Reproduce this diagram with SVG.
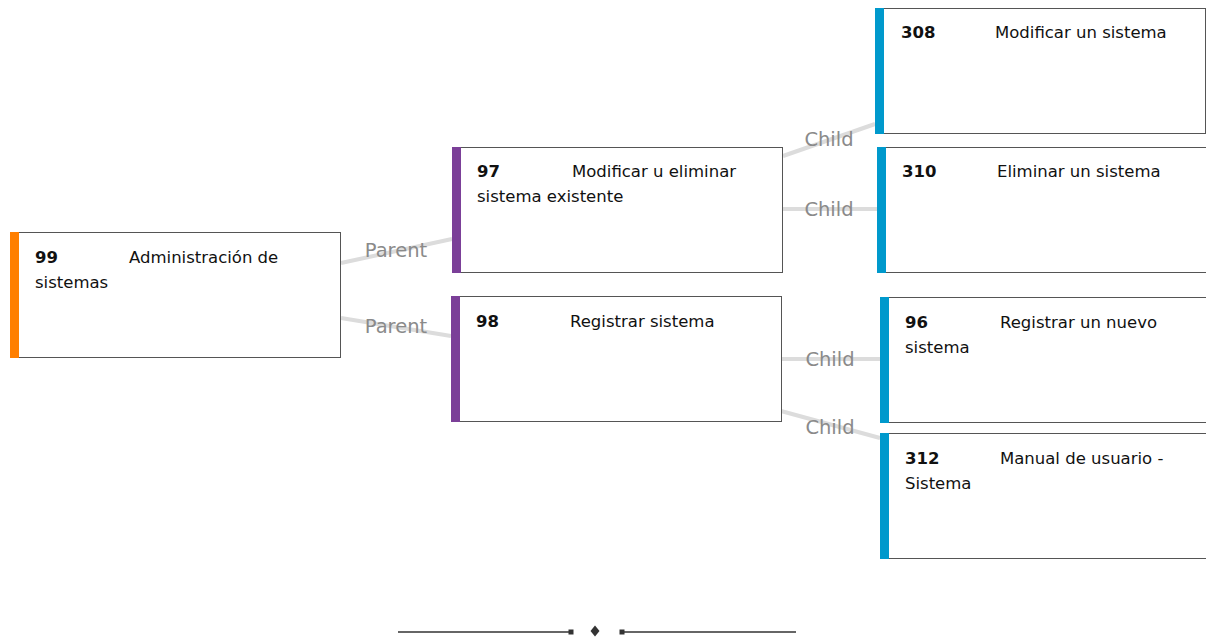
<svg xmlns="http://www.w3.org/2000/svg" width="1206" height="638" viewBox="0 0 1206 638">
<style>
.box{fill:#fff;stroke:#555;stroke-width:1}
.t{font-family:"DejaVu Sans",Verdana,sans-serif;font-size:16.5px;fill:#111}
.n{font-weight:bold}
.ln{stroke:#dcdcdc;stroke-width:4;fill:none}
.lb{font-family:"DejaVu Sans",Verdana,sans-serif;font-size:19.5px;fill:#8a8a8a;text-anchor:middle}
.or{fill:#ff7f00}.pu{fill:#7b3f98}.bl{fill:#0099cc}
</style>
<rect width="1206" height="638" fill="#fff"/>
<g id="connectors">
<line class="ln" x1="341" y1="263" x2="452" y2="239"/>
<line class="ln" x1="341" y1="318" x2="451" y2="336"/>
<line class="ln" x1="783" y1="156" x2="875" y2="124"/>
<line class="ln" x1="783" y1="209" x2="877" y2="209"/>
<line class="ln" x1="781" y1="359" x2="880" y2="359"/>
<line class="ln" x1="781" y1="411" x2="880" y2="438"/>
<text class="lb" x="396" y="257">Parent</text>
<text class="lb" x="396" y="333">Parent</text>
<text class="lb" x="829" y="146">Child</text>
<text class="lb" x="829" y="216">Child</text>
<text class="lb" x="830" y="366">Child</text>
<text class="lb" x="830" y="434">Child</text>
</g>
<g id="n99">
<rect class="box" x="10.5" y="232.5" width="330" height="125"/>
<rect class="or" x="10" y="232" width="9" height="126"/>
<text class="t n" x="35" y="263">99</text>
<text class="t" x="129" y="263">Administración de</text>
<text class="t" x="35" y="288">sistemas</text>
</g>
<g id="n97">
<rect class="box" x="452.5" y="147.5" width="330" height="125"/>
<rect class="pu" x="452" y="147" width="9" height="126"/>
<text class="t n" x="477" y="177">97</text>
<text class="t" x="572" y="177">Modificar u eliminar</text>
<text class="t" x="477" y="202">sistema existente</text>
</g>
<g id="n98">
<rect class="box" x="451.5" y="296.5" width="330" height="125"/>
<rect class="pu" x="451" y="296" width="9" height="126"/>
<text class="t n" x="476" y="327">98</text>
<text class="t" x="570" y="327">Registrar sistema</text>
</g>
<g id="n308">
<rect class="box" x="875.5" y="8.5" width="330" height="125"/>
<rect class="bl" x="875" y="8" width="9" height="126"/>
<text class="t n" x="901" y="38">308</text>
<text class="t" x="995" y="38">Modificar un sistema</text>
</g>
<g id="n310">
<rect class="box" x="877.5" y="147.5" width="330" height="125"/>
<rect class="bl" x="877" y="147" width="9" height="126"/>
<text class="t n" x="902" y="177">310</text>
<text class="t" x="997" y="177">Eliminar un sistema</text>
</g>
<g id="n96">
<rect class="box" x="880.5" y="297.5" width="330" height="125"/>
<rect class="bl" x="880" y="297" width="9" height="126"/>
<text class="t n" x="905" y="328">96</text>
<text class="t" x="1000" y="328">Registrar un nuevo</text>
<text class="t" x="905" y="353">sistema</text>
</g>
<g id="n312">
<rect class="box" x="880.5" y="433.5" width="330" height="125"/>
<rect class="bl" x="880" y="433" width="9" height="126"/>
<text class="t n" x="905" y="464">312</text>
<text class="t" x="1000" y="464">Manual de usuario -</text>
<text class="t" x="905" y="489">Sistema</text>
</g>
<g id="divider" fill="#333" stroke="#333">
<line x1="398" y1="632" x2="570" y2="632" stroke-width="1.5"/>
<rect x="568.5" y="629.5" width="5" height="5" stroke="none"/>
<path d="M595 625.5 L599.5 631 L595 636.5 L590.5 631 Z" stroke="none"/>
<rect x="619.5" y="629.5" width="5" height="5" stroke="none"/>
<line x1="624" y1="632" x2="796" y2="632" stroke-width="1.5"/>
</g>
</svg>
